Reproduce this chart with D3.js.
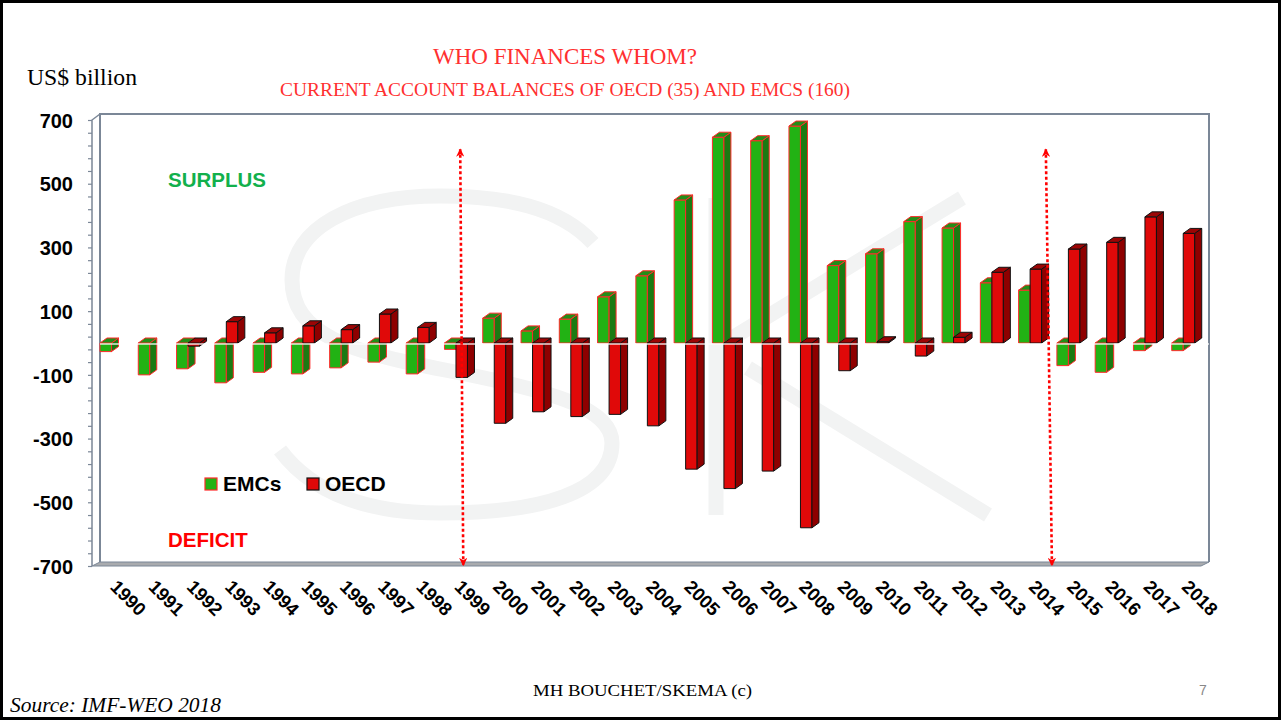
<!DOCTYPE html>
<html>
<head>
  <meta charset="utf-8">
  <title>Who finances whom?</title>
  <style>
    body { margin: 0; background: #fff; }
    svg text { font-family: "Liberation Sans", Arial, sans-serif; }
    .serif { font-family: "Liberation Serif", "Times New Roman", serif; }
    .ylab text { font-size: 20px; font-weight: bold; fill: #000; }
    .xlab text { font-size: 18.5px; font-weight: bold; fill: #000; }
  </style>
</head>
<body>
  <div id="chart"></div>

  <script src="https://cdn.jsdelivr.net/npm/d3@7/dist/d3.min.js"></script>
  <script>
    // values (US$ billion)
    var years = ["1990", "1991", "1992", "1993", "1994", "1995", "1996", "1997", "1998", "1999",
                 "2000", "2001", "2002", "2003", "2004", "2005", "2006", "2007", "2008", "2009",
                 "2010", "2011", "2012", "2013", "2014", "2015", "2016", "2017", "2018"];
    var emcs = [-27, -100, -81, -125, -92, -97, -78, -60, -97, -20,
                78, 38, 75, 145, 211, 449, 646, 635, 681, 243,
                280, 381, 361, 189, 166, -71, -92, -24, -24];
    var oecd = [null, null, -10, 67, 32, 54, 42, 91, 49, -108,
                -252, -216, -231, -224, -260, -396, -457, -402, -580, -87,
                4, -41, 18, 222, 232, 295, 316, 396, 344];
    var seriesNames = ["EMCs", "OECD"];
    var yTicks = [700, 500, 300, 100, -100, -300, -500, -700];
    var arrowYears = ["1999", "2014"];

    var W = 1283, H = 722;
    var svg = d3.select("#chart").append("svg")
      .attr("width", W)
      .attr("height", H);

    // slide border
    svg.append("rect")
      .attr("x", 1.5).attr("y", 1.5)
      .attr("width", 1278).attr("height", 717)
      .attr("fill", "#fff").attr("stroke", "#000").attr("stroke-width", 3);

    var y = d3.scaleLinear().domain([-700, 700]).range([566, 120]);
    var x = d3.scaleBand().domain(years).range([92, 1202]).padding(0);
    var xs = d3.scaleBand().domain(seriesNames).range([8, 31]).padding(0);

    var dx = 7, dy = 5;          // 3d depth
    var axisX = 92, wallX = 100, wallTop = 114, wallRight = 1209, wallBottom = 562;

    // watermark
    var wm = svg.append("g").attr("fill", "none").attr("stroke", "#f2f3f3").attr("stroke-width", 15);
    wm.append("path")
      .attr("d", "M593,243 C560,207 505,196 440,196 C352,196 292,228 292,280 C292,335 350,352 445,370 " +
                 "C560,392 612,410 612,443 C612,493 540,513 440,513 C362,513 310,490 280,450");
    wm.append("line").attr("x1", 716).attr("y1", 198).attr("x2", 716).attr("y2", 515);
    wm.append("line").attr("x1", 724).attr("y1", 343).attr("x2", 962).attr("y2", 198);
    wm.append("line").attr("x1", 748).attr("y1", 368).attr("x2", 988).attr("y2", 515);

    // frame: back wall, left axis, floor
    var frame = svg.append("g").attr("fill", "none").attr("stroke", "#7b8797");
    frame.append("path")
      .attr("stroke-width", 2)
      .attr("d", "M" + wallX + "," + wallBottom + "V" + wallTop + "H" + wallRight + "V" + wallBottom);
    frame.append("path")
      .attr("fill", "#a9abae")
      .attr("stroke-width", 1)
      .attr("d", "M" + axisX + "," + y(-700) + "L" + wallX + "," + wallBottom + "H" + wallRight +
                 "L" + (wallRight - 8) + "," + y(-700) + "Z");
    frame.append("path")
      .attr("stroke-width", 1.5)
      .attr("d", "M" + wallX + "," + wallTop + "L" + axisX + "," + y(700) + "V" + y(-700));

    // minor ticks every 40
    var minor = svg.append("g")
      .attr("transform", "translate(" + axisX + ",0)")
      .call(d3.axisLeft(y).tickValues(d3.range(-700, 701, 40)).tickSize(4).tickFormat(""));
    minor.select(".domain").remove();
    minor.selectAll("line").attr("stroke", "#7b8797").attr("stroke-width", 1.2);

    var yAxis = svg.append("g")
      .attr("class", "ylab")
      .attr("transform", "translate(" + axisX + ",0)")
      .call(d3.axisLeft(y).tickValues(yTicks).tickSize(0).tickPadding(19)
        .tickFormat(function(d) { return String(d); }));
    yAxis.select(".domain").remove();
    yAxis.selectAll("text").attr("dy", "0.36em");

    // year labels
    var xAxis = svg.append("g")
      .attr("class", "xlab")
      .attr("transform", "translate(0,588)")
      .call(d3.axisBottom(x).tickSize(0).tickPadding(0));
    xAxis.select(".domain").remove();
    xAxis.selectAll("text")
      .attr("text-anchor", "start")
      .attr("y", 0).attr("dy", 0)
      .attr("transform", "translate(-2,0) rotate(45)");

    // bars
    var palette = {
      EMCs: { front: "#22b214", side: "#1b7a12", top: "#238d18", edge: "#ff2a2a" },
      OECD: { front: "#e00909", side: "#8e0000", top: "#9c0505", edge: "#111" }
    };
    var rows = years.map(function(yr, i) {
      return { year: yr, values: [{ key: "EMCs", v: emcs[i] }, { key: "OECD", v: oecd[i] }] };
    });

    var bars = svg.append("g");
    rows.forEach(function(r) {
      r.values.forEach(function(d) {
        if (d.v === null) return;
        var c = palette[d.key];
        var x0 = x(r.year) + xs(d.key), w = xs.bandwidth();
        var ya = y(Math.max(d.v, 0)), yb = y(Math.min(d.v, 0));
        var g = bars.append("g").attr("stroke", c.edge).attr("stroke-width", 1).attr("stroke-linejoin", "round");
        g.append("rect").attr("x", x0).attr("y", ya).attr("width", w).attr("height", yb - ya).attr("fill", c.front);
        g.append("path").attr("fill", c.side)
          .attr("d", "M" + (x0 + w) + "," + ya + "L" + (x0 + w + dx) + "," + (ya - dy) +
                     "V" + (yb - dy) + "L" + (x0 + w) + "," + yb + "Z");
        g.append("path").attr("fill", c.top)
          .attr("d", "M" + x0 + "," + ya + "L" + (x0 + dx) + "," + (ya - dy) +
                     "H" + (x0 + w + dx) + "L" + (x0 + w) + "," + ya + "Z");
      });
    });

    // floor line at zero
    svg.append("line")
      .attr("x1", wallX).attr("x2", wallRight)
      .attr("y1", y(0) + 1).attr("y2", y(0) + 1)
      .attr("stroke", "#fff").attr("stroke-width", 1.3).attr("opacity", 0.85);

    // dotted arrows
    svg.append("defs").selectAll("marker")
      .data(["head"])
      .enter().append("marker")
      .attr("id", String)
      .attr("viewBox", "0 -5 10 10")
      .attr("refX", 9).attr("refY", 0)
      .attr("markerWidth", 3.2).attr("markerHeight", 3.2)
      .attr("markerUnits", "strokeWidth")
      .attr("orient", "auto-start-reverse")
      .append("path")
      .attr("d", "M0,-5L10,0L0,5L3,0Z")
      .attr("fill", "#ff0000");

    var arrowOffsets = [[0.62, 0.70], [0.92, 1.08]];
    arrowYears.forEach(function(yr, i) {
      svg.append("line")
        .attr("x1", x(yr) + x.bandwidth() * arrowOffsets[i][0]).attr("y1", y(608))
        .attr("x2", x(yr) + x.bandwidth() * arrowOffsets[i][1]).attr("y2", y(-698))
        .attr("stroke", "#ff0000").attr("stroke-width", 2.6)
        .attr("stroke-dasharray", "3,2.5")
        .attr("marker-start", "url(#head)")
        .attr("marker-end", "url(#head)");
    });

    // legend
    var legend = svg.append("g").attr("transform", "translate(205,478)");
    seriesNames.forEach(function(k, i) {
      var lg = legend.append("g").attr("transform", "translate(" + (i * 102) + ",0)");
      lg.append("rect").attr("width", 12).attr("height", 12)
        .attr("fill", palette[k].front).attr("stroke", palette[k].edge).attr("stroke-width", 1.2);
      lg.append("text").attr("x", 18).attr("y", 13)
        .attr("font-size", 21).attr("font-weight", "bold").text(k);
    });

    // annotations
    svg.append("text").attr("x", 168).attr("y", 187)
      .attr("font-family", "'Open Sans', sans-serif").attr("font-weight", "bold")
      .attr("font-size", 20.5).attr("fill", "#12b04c").text("SURPLUS");
    svg.append("text").attr("x", 168).attr("y", 547)
      .attr("font-family", "'Open Sans', sans-serif").attr("font-weight", "bold")
      .attr("font-size", 20.5).attr("fill", "#ff0000").text("DEFICIT");

    svg.append("text").attr("class", "serif").attr("x", 27).attr("y", 85)
      .attr("font-size", 22.5).attr("fill", "#000")
      .attr("textLength", 110).attr("lengthAdjust", "spacingAndGlyphs")
      .text("US$ billion");

    svg.append("text").attr("class", "serif").attr("x", 433).attr("y", 64)
      .attr("font-size", 23).attr("fill", "#ff3030")
      .attr("textLength", 264).attr("lengthAdjust", "spacingAndGlyphs")
      .text("WHO FINANCES WHOM?");
    svg.append("text").attr("class", "serif").attr("x", 280).attr("y", 96)
      .attr("font-size", 19.5).attr("fill", "#ff3030")
      .attr("textLength", 570).attr("lengthAdjust", "spacingAndGlyphs")
      .text("CURRENT ACCOUNT BALANCES OF OECD (35)  AND EMCS (160)");

    // footer
    svg.append("text").attr("class", "serif").attr("x", 533).attr("y", 696)
      .attr("font-size", 17).attr("fill", "#000")
      .attr("textLength", 219).attr("lengthAdjust", "spacingAndGlyphs")
      .text("MH BOUCHET/SKEMA (c)");
    svg.append("text").attr("class", "serif").attr("x", 10).attr("y", 712)
      .attr("font-size", 20).attr("font-style", "italic").attr("fill", "#000")
      .attr("textLength", 211).attr("lengthAdjust", "spacingAndGlyphs")
      .text("Source: IMF-WEO 2018");
    svg.append("text").attr("x", 1203).attr("y", 695)
      .attr("text-anchor", "middle").attr("font-size", 14).attr("fill", "#888")
      .text("7");
  </script>
</body>
</html>
